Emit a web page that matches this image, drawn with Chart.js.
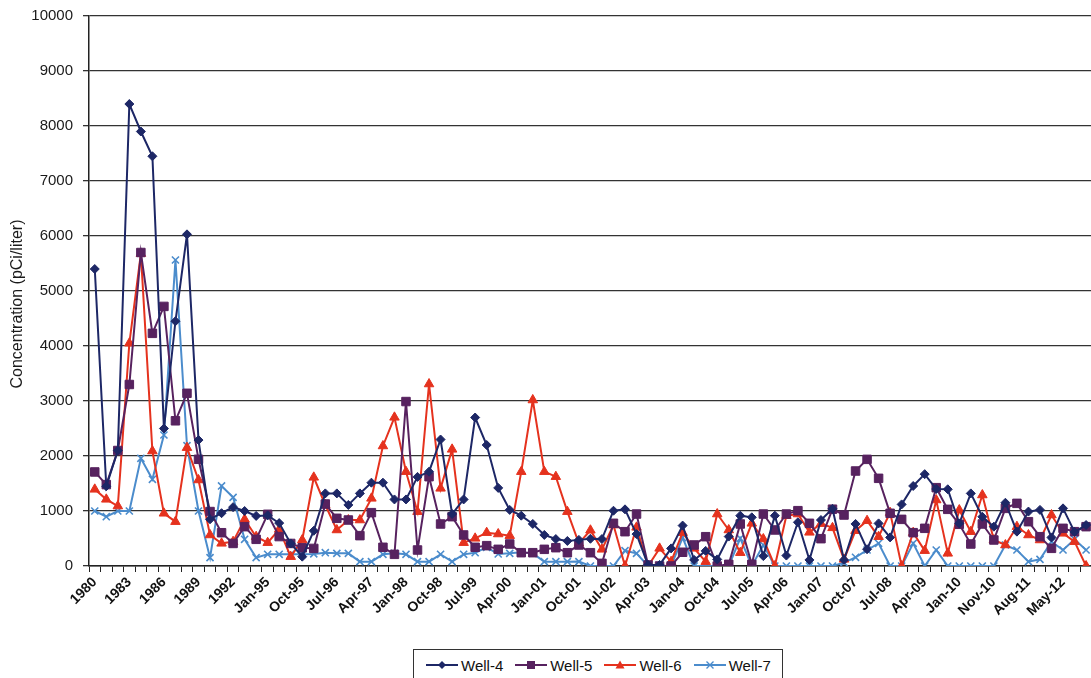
<!DOCTYPE html>
<html>
<head>
<meta charset="utf-8">
<script src="https://cdn.jsdelivr.net/npm/chart.js@4/dist/chart.umd.min.js"></script>
<style>
  html, body { margin: 0; padding: 0; background: #fff; overflow: hidden; }
  #wrap { position: relative; width: 1091px; height: 678px; overflow: hidden; }
  #c { position: absolute; left: 0; top: 0; }
  #legend {
    position: absolute; left: 413px; top: 649px; width: 370px; height: 32px;
    box-sizing: border-box; border: 1px solid #333; background: #fff;
    display: flex; align-items: center; padding: 0 0 0 12px; white-space: nowrap;
    font: 15px "Liberation Sans", Arial, sans-serif; color: #111;
  }
  #legend .item { display: flex; align-items: center; flex: 0 0 auto; margin-right: 12px; }
  #legend svg { margin-right: 3px; flex: 0 0 auto; }
</style>
</head>
<body>
<div id="wrap">
  <canvas id="c" width="1100" height="678"></canvas>
  <div id="legend"></div>
</div>
<script>
// Sampling dates (yearly to 1994, then mostly quarterly)
const dates = [
  '1980','1981','1982','1983','1984','1985','1986','1987','1988','1989','1990','1991','1992','1993','1994',
  'Jan-95','Apr-95','Jul-95','Oct-95','Jan-96','Apr-96','Jul-96','Oct-96',
  'Jan-97','Apr-97','Jul-97','Oct-97','Jan-98','Apr-98','Jul-98','Oct-98',
  'Jan-99','Apr-99','Jul-99','Oct-99','Jan-00','Apr-00','Jul-00','Oct-00',
  'Jan-01','Apr-01','Jul-01','Oct-01','Jan-02','Apr-02','Jul-02','Oct-02',
  'Jan-03','Apr-03','Jul-03','Oct-03','Jan-04','Apr-04','Jul-04','Oct-04',
  'Jan-05','Apr-05','Jul-05','Oct-05','Jan-06','Apr-06','Jul-06','Oct-06',
  'Jan-07','Apr-07','Jul-07','Oct-07','Jan-08','Apr-08','Jul-08','Oct-08',
  'Jan-09','Apr-09','Jul-09','Oct-09','Jan-10','Apr-10','Aug-10','Nov-10',
  'Feb-11','May-11','Aug-11','Nov-11','Feb-12','May-12','Aug-12','Nov-12'
];

// Concentrations, pCi/liter
const well4 = [
  5400, 1450, 2100, 8400, 7900, 7450, 2500, 4450, 6030, 2290, 850, 960, 1070, 1000, 910,
  920, 780, 410, 170, 640, 1320, 1320, 1110,
  1320, 1515, 1515, 1210, 1210, 1620, 1715, 2300,
  945, 1210, 2700, 2200, 1420, 1020, 915, 765,
  565, 490, 455, 475, 495, 490, 1005, 1030,
  580, 20, 20, 320, 735, 110, 275, 120,
  535, 915, 885, 180, 915, 190, 795, 110,
  836, 1040, 110, 765, 305, 775, 520, 1120,
  1455, 1670, 1400, 1395, 775, 1320, 895, 715,
  1150, 625, 990, 1020, 520, 1048, 620, 745
];
const well5 = [
  1710, 1480, 2100, 3300, 5700, 4230, 4720, 2640, 3140, 1940, 990, 605, 410, 715, 485,
  940, 535, 410, 330, 320, 1127, 867, 836,
  552, 970, 340, 212, 2990, 291, 1624, 764,
  897, 564, 340, 370, 303, 400, 242, 242,
  303, 333, 242, 382, 242, 48, 776, 624,
  945, 18, 0, 0, 250, 382, 533, 0,
  30, 764, 30, 945, 655, 945, 1006, 776,
  497, 1033, 927, 1727, 1939, 1594, 958, 848,
  606, 685, 1424, 1030, 758, 400, 764, 473,
  1048, 1139, 806, 533, 321, 685, 624, 715
];
const well6 = [
  1394, 1212, 1090, 4050, 5680, 2090, 958, 806, 2152, 1564, 564, 412, 442, 848, 533,
  424, 667, 170, 473, 1612, 1109, 655, 836,
  836, 1230, 2182, 2703, 1715, 988, 3309, 1412,
  2121, 424, 503, 606, 582, 552, 1715, 3018,
  1715, 1624, 988, 412, 650, 303, 745, 0,
  703, 0, 321, 79, 606, 321, 79, 945,
  655, 242, 776, 491, 0, 915, 945, 612,
  770, 694, 121, 642, 824, 533, 970, 0,
  606, 279, 1200, 230, 1018, 624, 1291, 473,
  382, 715, 564, 473, 927, 594, 442, 0
];
const well7 = [
  1000, 897, 1000, 1000, 1958, 1576, 2382, 5564, 2188, 1000, 152, 1455, 1248, 485, 152,
  212, 212, 212, 212, 220, 242, 230, 230,
  79, 79, 212, 230, 212, 79, 79, 212,
  79, 212, 242, 340, 218, 230, 248, 230,
  79, 79, 79, 80, 0, 0, 0, 279,
  230, 0, 0, 0, 515, 0, 0, 0,
  0, 503, 0, 382, 0, 0, 0, 0,
  0, 0, 61, 158, 291, 412, 0, 0,
  412, 0, 291, 0, 0, 0, 0, 0,
  382, 291, 79, 121, 442, 291, 485, 291
];

const yTicks = [0, 1000, 2000, 3000, 4000, 5000, 6000, 7000, 8000, 9000, 10000];
const yTitle = 'Concentration (pCi/liter)';

const FONT = '"Liberation Sans", Arial, sans-serif';
const series = [
  { label: 'Well-4', data: well4, color: '#1d2766', style: 'rectRot', radius: 4.5 },
  { label: 'Well-5', data: well5, color: '#57225f', style: 'rect', radius: 6 },
  { label: 'Well-6', data: well6, color: '#e5321e', style: 'triangle', radius: 5.5 },
  { label: 'Well-7', data: well7, color: '#4b8ccc', style: 'crossRot', radius: 5 }
];

// Vertical axis title, drawn beside the value labels
const axisTitle = {
  id: 'axisTitle',
  afterDraw(chart) {
    const ctx = chart.ctx;
    ctx.save();
    ctx.translate(18, 304);
    ctx.rotate(-Math.PI / 2);
    ctx.font = '16px ' + FONT;
    ctx.fillStyle = '#1a1a1a';
    ctx.textAlign = 'center';
    ctx.textBaseline = 'middle';
    ctx.fillText(yTitle, 0, 0);
    ctx.restore();
  }
};

const chart = new Chart(document.getElementById('c'), {
  type: 'line',
  data: {
    labels: dates,
    datasets: series.map(s => ({
      label: s.label,
      data: s.data,
      borderColor: s.color,
      backgroundColor: s.color,
      pointBackgroundColor: s.color,
      pointBorderColor: s.color,
      pointStyle: s.style,
      pointRadius: s.radius,
      pointBorderWidth: s.style === 'crossRot' ? 1.6 : 1,
      borderWidth: 2,
      tension: 0,
      fill: false
    }))
  },
  plugins: [axisTitle],
  options: {
    responsive: false,
    animation: false,
    layout: { padding: { top: 16, left: 0, right: 0, bottom: 0 } },
    plugins: { legend: { display: false }, tooltip: { enabled: false } },
    scales: {
      x: {
        type: 'category',
        offset: true,
        grid: { offset: true, drawOnChartArea: false, drawTicks: true, tickLength: 6, color: '#222', lineWidth: 1 },
        border: { color: '#222', width: 1.5 },
        ticks: {
          autoSkip: false, minRotation: 45, maxRotation: 45, padding: 2,
          color: '#111',
          font: { family: FONT, size: 14, weight: 'bold' },
          callback: (v, i) => (i % 3 === 0 ? dates[i] : '')
        },
        afterFit: s => { s.height = 112; }
      },
      y: {
        min: 0, max: 10000,
        afterBuildTicks: s => { s.ticks = yTicks.map(v => ({ value: v })); },
        grid: { color: '#333', lineWidth: 1.3, tickLength: 6 },
        border: { color: '#222', width: 1.5 },
        ticks: { padding: 10, color: '#1a1a1a', font: { family: FONT, size: 15 }, callback: v => String(v) },
        afterFit: s => { s.width = 89; s.paddingTop = 0; s.paddingBottom = 0; }
      }
    }
  }
});

// Legend: line segment with marker, then series name
const legend = document.getElementById('legend');
const markerSvg = (s) => {
  const c = s.color;
  let m = '';
  if (s.style === 'rectRot') m = `<polygon points="16,3 20,7 16,11 12,7" fill="${c}"/>`;
  else if (s.style === 'rect') m = `<rect x="12" y="3" width="8" height="8" fill="${c}"/>`;
  else if (s.style === 'triangle') m = `<polygon points="16,2.5 20.5,10.5 11.5,10.5" fill="${c}"/>`;
  else m = `<path d="M12.5 3.5 L19.5 10.5 M19.5 3.5 L12.5 10.5" stroke="${c}" stroke-width="1.4"/>`;
  return `<svg width="32" height="14" viewBox="0 0 32 14"><line x1="0" y1="7" x2="32" y2="7" stroke="${c}" stroke-width="2"/>${m}</svg>`;
};
legend.innerHTML = series.map(s =>
  `<span class="item">${markerSvg(s)}<span>${s.label}</span></span>`).join('');
</script>
</body>
</html>
